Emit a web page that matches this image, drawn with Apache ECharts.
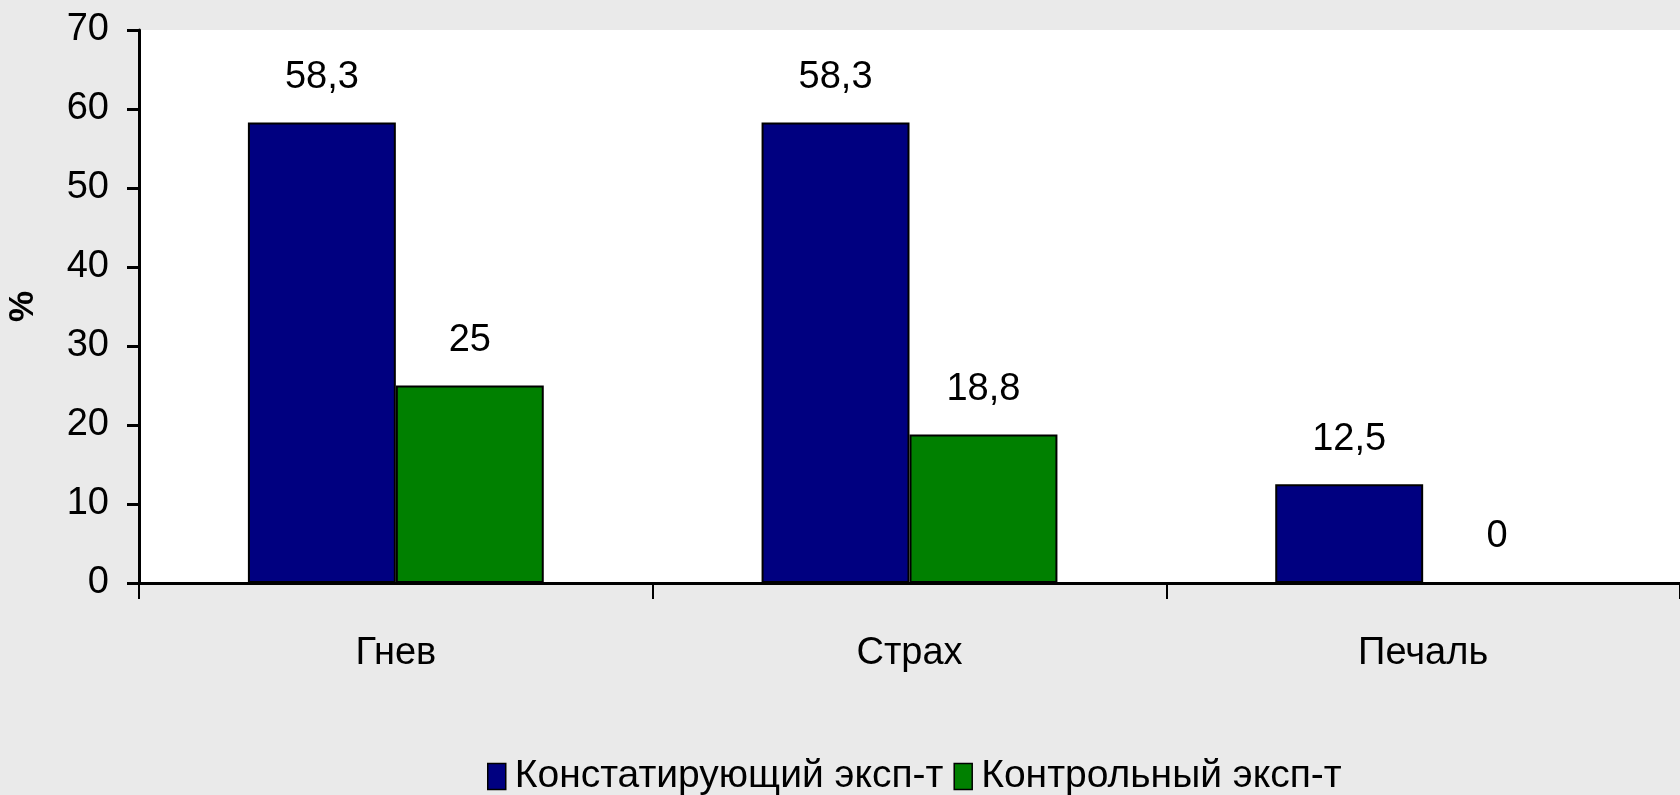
<!DOCTYPE html>
<html>
<head>
    <meta charset="utf-8">
    <title>Эмоции: констатирующий и контрольный эксперимент</title>
    <script src="https://cdn.jsdelivr.net/npm/echarts@6/dist/echarts.min.js"></script>
    <style>
        body, html { margin: 0; padding: 0; width: 100%; height: 100%; overflow: hidden; background: #eaeaea; }
        #main { width: 1680px; height: 795px; }
    </style>
</head>
<body>
    <div id="main"></div>
    <script type="text/javascript">
        // data
        var categories = ['Гнев', 'Страх', 'Печаль'];
        var seriesNames = ['Констатирующий эксп-т', 'Контрольный эксп-т'];
        var confirmValues = [58.3, 58.3, 12.5];
        var controlValues = [25, 18.8, 0];
        var yTicks = { min: 0, max: 70, step: 10 };

        var FONT = '"Liberation Sans", Arial, sans-serif';

        function commaFmt(p) {
            return String(p.value).replace('.', ',');
        }

        var chart = echarts.init(document.getElementById('main'));

        var labelStyle = {
            show: true,
            position: 'top',
            distance: 26,
            formatter: commaFmt,
            color: '#000',
            fontFamily: FONT,
            fontSize: 38
        };

        chart.setOption({
            backgroundColor: '#eaeaea',
            textStyle: { fontFamily: FONT },
            grid: {
                left: 139, right: 0, top: 30, bottom: 212,
                outerBoundsMode: 'none',
                containLabel: false,
                show: true, backgroundColor: '#ffffff', borderWidth: 0
            },
            legend: {
                left: 482,
                top: 752,
                itemWidth: 18,
                itemHeight: 26,
                itemGap: 10,
                icon: 'rect',
                itemStyle: { borderColor: '#000', borderWidth: 1.5 },
                textStyle: { fontFamily: FONT, fontSize: 39, color: '#000', padding: [0, 0, 0, 4] },
                data: seriesNames
            },
            xAxis: {
                type: 'category',
                data: categories,
                axisLine: { lineStyle: { color: '#000', width: 3 } },
                axisTick: { show: true, length: 16, lineStyle: { color: '#000', width: 2 } },
                axisLabel: { color: '#000', fontSize: 38, fontFamily: FONT, margin: 52 }
            },
            yAxis: {
                type: 'value',
                min: yTicks.min,
                max: yTicks.max,
                interval: yTicks.step,
                name: '%',
                nameLocation: 'middle',
                nameGap: 98,
                nameMoveOverlap: false,
                nameTextStyle: { fontFamily: FONT, fontSize: 35, fontWeight: 'bold', color: '#000' },
                axisLine: { show: true, lineStyle: { color: '#000', width: 3 } },
                axisTick: { show: true, length: 12, lineStyle: { color: '#000', width: 3 } },
                axisLabel: { color: '#000', fontSize: 38, fontFamily: FONT, margin: 30 },
                splitLine: { show: false }
            },
            series: [
                {
                    name: seriesNames[0],
                    type: 'bar',
                    data: confirmValues,
                    barWidth: '28.8%',
                    barGap: '0%',
                    itemStyle: { color: '#000080', borderColor: '#000', borderWidth: 2 },
                    label: labelStyle
                },
                {
                    name: seriesNames[1],
                    type: 'bar',
                    data: controlValues,
                    barWidth: '28.8%',
                    itemStyle: { color: '#008000', borderColor: '#000', borderWidth: 2 },
                    label: labelStyle
                }
            ]
        });
    </script>
</body>
</html>
